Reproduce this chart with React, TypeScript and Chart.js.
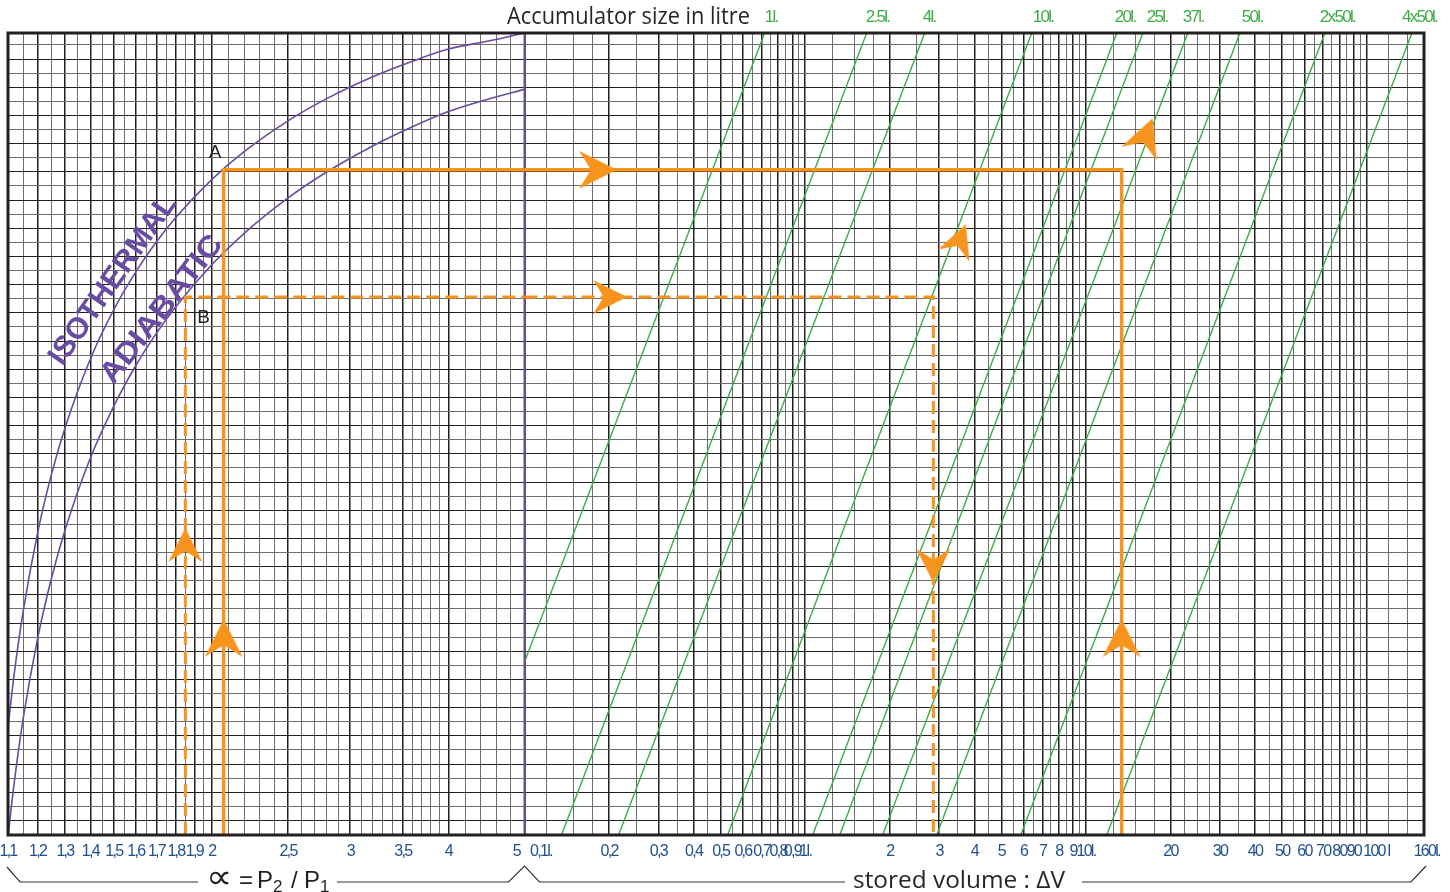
import React, { useEffect, useRef } from 'react';
import { Chart, registerables } from 'chart.js';

Chart.register(...registerables);

// ---------------- data ----------------
// vertical axis: ratio ΔV / V0 (log scale)
const RATIO_TOP = 0.69;
const RATIO_BOTTOM = 0.0569;

// α = P2 / P1 section (log scale)
const ALPHA_MIN = 1.1;
const ALPHA_MAX = 5;
const ALPHA_GRID = [1.1, 1.15, 1.2, 1.25, 1.3, 1.35, 1.4, 1.45, 1.5, 1.55, 1.6, 1.65, 1.7, 1.75, 1.8, 1.85, 1.9, 1.95, 2, 2.1, 2.2, 2.3, 2.4, 2.5, 2.6, 2.7, 2.8, 2.9, 3, 3.1, 3.2, 3.3, 3.4, 3.5, 3.6, 3.7, 3.8, 3.9, 4, 4.2, 4.4, 4.6, 4.8, 5];
const ALPHA_TICKS = [1.1, 1.2, 1.3, 1.4, 1.5, 1.6, 1.7, 1.8, 1.9, 2, 2.5, 3, 3.5, 4, 5];
const ALPHA_TICK_LABELS = ['1,1', '1,2', '1,3', '1,4', '1,5', '1,6', '1,7', '1,8', '1,9', '2', '2,5', '3', '3,5', '4', '5      '];

// stored volume ΔV section (log scale, litres)
const VOL_MIN = 0.1;
const VOL_MAX = 160;
const VOLUME_GRID = [0.1, 0.12, 0.15, 0.175, 0.2, 0.25, 0.3, 0.35, 0.4, 0.45, 0.5, 0.55, 0.6, 0.65, 0.7, 0.75, 0.8, 0.85, 0.9, 0.95, 1, 1.25, 1.5, 1.75, 2, 2.5, 3, 3.5, 4, 4.5, 5, 5.5, 6, 6.5, 7, 7.5, 8, 8.5, 9, 9.5, 10, 12.5, 15, 17.5, 20, 22.5, 25, 27.5, 30, 35, 40, 45, 50, 55, 60, 65, 70, 75, 80, 85, 90, 95, 100, 120, 140, 160];
const VOLUME_TICKS = [0.1, 0.2, 0.3, 0.4, 0.5, 0.6, 0.7, 0.8, 0.9, 1, 2, 3, 4, 5, 6, 7, 8, 9, 10, 20, 30, 40, 50, 60, 70, 80, 90, 100, 160];
const VOLUME_TICK_LABELS = ['            0,1l.', '0,2', '0,3', '0,4', '0,5', '0,6', '0,7', '0,8', '0,9', '1l.', '2', '3', '4', '5', '6', '7', '8', '9', '10l.', '20', '30', '40', '50', '60', '70', '80', '90', '       100 l', '  160l.'];

// accumulator size lines (green)
const SIZE_LABELS = ['1l.', '2.5l.', '4l.', '10l.', '20l.', '25l.', '37l.', '50l.', '2x50l.', '4x50l.'];
const SIZE_LABEL_VOLUME = [0.717, 1.642, 2.62, 6.46, 12.67, 16.47, 22.13, 35.91, 68.1, 133.5];
const SIZE_TOP_VOLUME = [0.717, 1.655, 2.665, 6.41, 12.88, 15.94, 23.06, 35.33, 70.96, 144.9];
const SIZE_BOTTOM_VOLUME = [0.1, 0.1355, 0.2163, 0.529, 1.063, 1.327, 1.887, 2.94, 5.86, 11.86];
const SIZE_BOTTOM_RATIO = [0.0975, 0.0569, 0.0569, 0.0569, 0.0569, 0.0569, 0.0569, 0.0569, 0.0569, 0.0569];

// isothermal / adiabatic curves
const CURVE_ALPHA = [1.1, 1.12, 1.15, 1.2, 1.25, 1.3, 1.4, 1.5, 1.6, 1.7, 1.8, 2, 2.2, 2.5, 2.8, 3.2, 3.6, 4, 4.5, 5];
const ISOTHERMAL_RATIO = [0.0795, 0.0938, 0.1141, 0.1458, 0.175, 0.2019, 0.25, 0.2917, 0.3281, 0.3603, 0.3889, 0.4375, 0.4773, 0.525, 0.5625, 0.6016, 0.6319, 0.6563, 0.673, 0.69];
const ADIABATIC_RATIO = [0.0566, 0.0668, 0.0817, 0.105, 0.1267, 0.1469, 0.1837, 0.2161, 0.2452, 0.2712, 0.2947, 0.3357, 0.3702, 0.413, 0.4477, 0.4852, 0.5154, 0.5404, 0.562, 0.579];

// worked examples: [A (solid), B (dashed)]
const EXAMPLE_ALPHA = [2.07, 1.85];
const EXAMPLE_RATIO = [0.4508, 0.3035];
const EXAMPLE_VOLUME = [13.4, 2.86];

// arrows
const ARROW_A_ALPHA = [2.07, 1.85];
const ARROW_A_RATIO = [0.105, 0.1403];
const ARROW_A_ROT = [-90, -90];
const ARROW_A_SIZE = [40, 36];
const ARROW_V_VOLUME = [0.1827, 0.2017, 16.34, 3.551, 2.86, 13.4];
const ARROW_V_RATIO = [0.4508, 0.3035, 0.5009, 0.3624, 0.1315, 0.105];
const ARROW_V_ROT = [0, 0, -69, -69, 90, -90];
const ARROW_V_SIZE = [40, 36, 40, 36, 36, 40];

// ---------------- style ----------------
const DARK = '#231f20';
const GREY = '#6e6e6e';
const GREEN = '#3dac45';
const ORANGE = '#f7941d';
const PURPLE = '#6a4ba3';
const BLUE = '#1f4f8c';
const SANS = '"Liberation Sans", Arial, sans-serif';
const SPLIT = 516.5 / 1416; // share of the plot width taken by the α section

const xaMax = ALPHA_MIN * Math.pow(ALPHA_MAX / ALPHA_MIN, 1 / SPLIT);
const xvMin = VOL_MIN / Math.pow(VOL_MAX / VOL_MIN, SPLIT / (1 - SPLIT));

const DECADES = Math.log10(RATIO_TOP / RATIO_BOTTOM);
const ROW_VALUES = Array.from({ length: 56 }, (_, k) => RATIO_TOP * Math.pow(10, (-DECADES * (12 + 14.1 * k)) / 802));

const near = (a: number, b: number) => Math.abs(a - b) < 1e-6 * Math.max(1, Math.abs(b));
const findIdx = (arr: number[], v: number) => arr.findIndex((t) => near(t, v));

function makeArrow(size: number): HTMLCanvasElement {
  const c = document.createElement('canvas');
  c.width = size;
  c.height = size;
  const g = c.getContext('2d')!;
  g.fillStyle = ORANGE;
  g.beginPath();
  g.moveTo(size - 1, size / 2);
  g.lineTo(1, 1);
  g.quadraticCurveTo(size * 0.22, size * 0.32, size * 0.32, size / 2);
  g.quadraticCurveTo(size * 0.22, size * 0.68, 1, size - 1);
  g.closePath();
  g.fill();
  return c;
}

function rotatedText(ctx: CanvasRenderingContext2D, text: string, cx: number, cy: number, deg: number, target: number) {
  ctx.save();
  ctx.translate(cx, cy);
  ctx.rotate((deg * Math.PI) / 180);
  ctx.font = 'bold 30px "Liberation Sans", Arial, sans-serif';
  const w = ctx.measureText(text).width;
  ctx.scale(target / w, 1);
  ctx.textAlign = 'center';
  ctx.textBaseline = 'middle';
  ctx.fillStyle = PURPLE;
  ctx.fillText(text, 0, 0);
  ctx.restore();
}

function fitText(ctx: CanvasRenderingContext2D, text: string, x: number, y: number, target: number) {
  const w = ctx.measureText(text).width;
  ctx.save();
  ctx.translate(x, y);
  ctx.scale(target / w, 1);
  ctx.fillText(text, 0, 0);
  ctx.restore();
}

// condensed look for the axis labels drawn by Chart.js
const tightLabels = {
  id: 'tightLabels',
  beforeDraw(chart: any) {
    (chart.ctx as any).letterSpacing = '-1.7px';
  },
};

const textPlugin = {
  id: 'nomoText',
  afterDatasetsDraw(chart: any) {
    const { ctx, chartArea: a, scales } = chart;
    (ctx as any).letterSpacing = '0px';
    const xa = scales.xa;
    const xv = scales.xv;
    const y = scales.y;
    ctx.save();
    // frame
    ctx.strokeStyle = DARK;
    ctx.lineWidth = 3;
    ctx.strokeRect(a.left, a.top, a.right - a.left, a.bottom - a.top);

    // A / B
    ctx.fillStyle = DARK;
    ctx.textAlign = 'left';
    ctx.textBaseline = 'alphabetic';
    ctx.font = '19px ' + SANS;
    const ax = xa.getPixelForValue(EXAMPLE_ALPHA[0]);
    const ay = y.getPixelForValue(EXAMPLE_RATIO[0]);
    ctx.fillText('A', ax - 15, ay - 12);
    const bx = xa.getPixelForValue(EXAMPLE_ALPHA[1]);
    const by = y.getPixelForValue(EXAMPLE_RATIO[1]);
    ctx.fillText('B', bx + 12, by + 26);

    // curve names
    rotatedText(ctx, 'ISOTHERMAL', xa.getPixelForValue(1.497), y.getPixelForValue(0.3197), -55, 200);
    rotatedText(ctx, 'ADIABATIC', xa.getPixelForValue(1.728), y.getPixelForValue(0.2916), -52, 180);

    // top title
    ctx.fillStyle = '#262626';
    ctx.font = '23px "Open Sans", "Noto Sans", sans-serif';
    fitText(ctx, 'Accumulator size in litre', 507, 24, 243);

    // bottom braces
    const sx = xv.getPixelForValue(VOL_MIN);
    const by0 = a.bottom + 47;
    ctx.strokeStyle = '#333333';
    ctx.lineWidth = 1.2;
    ctx.beginPath();
    ctx.moveTo(a.left - 1, by0 - 15);
    ctx.lineTo(a.left + 12, by0);
    ctx.lineTo(198, by0);
    ctx.moveTo(337, by0);
    ctx.lineTo(sx - 16, by0);
    ctx.lineTo(sx, by0 - 16);
    ctx.lineTo(sx + 15, by0);
    ctx.lineTo(845, by0);
    ctx.moveTo(1082, by0);
    ctx.lineTo(a.right - 13, by0);
    ctx.lineTo(a.right + 2, by0 - 16);
    ctx.stroke();

    // α = P2 / P1
    ctx.fillStyle = DARK;
    const base = a.bottom + 53;
    ctx.font = '34px "DejaVu Sans", sans-serif';
    fitText(ctx, '\u221D', 206, base, 26);
    ctx.font = '24px ' + SANS;
    ctx.fillText('=', 239, base);
    ctx.fillText('P', 257, base);
    ctx.fillText('/', 291, base);
    ctx.fillText('P', 304, base);
    ctx.font = '17px ' + SANS;
    ctx.fillText('2', 273, base + 4);
    ctx.fillText('1', 320, base + 4);

    // stored volume
    ctx.fillStyle = '#262626';
    ctx.font = '24px "Open Sans", "Noto Sans", sans-serif';
    fitText(ctx, 'stored volume : \u0394V', 853, base, 212);
    ctx.restore();
  },
};

export default function App() {
  const ref = useRef<HTMLCanvasElement>(null);
  useEffect(() => {
    const canvas = ref.current;
    if (!canvas) return;

    const greenSets = SIZE_LABELS.map((lab, i) => ({
      label: lab,
      type: 'line',
      xAxisID: 'xv',
      yAxisID: 'y',
      data: [
        { x: SIZE_BOTTOM_VOLUME[i], y: SIZE_BOTTOM_RATIO[i] },
        { x: SIZE_TOP_VOLUME[i], y: RATIO_TOP },
      ],
      borderColor: GREEN,
      borderWidth: 1.4,
      pointRadius: 0,
      order: 5,
    }));

    const datasets: any[] = [
      ...greenSets,
      {
        label: 'isothermal',
        xAxisID: 'xa',
        yAxisID: 'y',
        data: CURVE_ALPHA.map((a, i) => ({ x: a, y: ISOTHERMAL_RATIO[i] })),
        borderColor: PURPLE,
        borderWidth: 1.6,
        pointRadius: 0,
        cubicInterpolationMode: 'monotone',
        order: 4,
      },
      {
        label: 'adiabatic',
        xAxisID: 'xa',
        yAxisID: 'y',
        data: CURVE_ALPHA.map((a, i) => ({ x: a, y: ADIABATIC_RATIO[i] })),
        borderColor: PURPLE,
        borderWidth: 1.6,
        pointRadius: 0,
        cubicInterpolationMode: 'monotone',
        order: 4,
      },
      {
        label: 'alpha max',
        xAxisID: 'xa',
        yAxisID: 'y',
        data: [
          { x: ALPHA_MAX, y: RATIO_BOTTOM },
          { x: ALPHA_MAX, y: RATIO_TOP },
        ],
        borderColor: PURPLE,
        borderWidth: 2,
        pointRadius: 0,
        order: 4,
      },
    ];

    EXAMPLE_ALPHA.forEach((al, i) => {
      const dash = i === 1 ? [13, 6] : [];
      const w = i === 1 ? 3 : 3.5;
      datasets.push({
        label: 'example left ' + i,
        xAxisID: 'xa',
        yAxisID: 'y',
        data: [
          { x: al, y: RATIO_BOTTOM },
          { x: al, y: EXAMPLE_RATIO[i] },
          { x: ALPHA_MAX, y: EXAMPLE_RATIO[i] },
        ],
        borderColor: ORANGE,
        borderWidth: w,
        borderDash: dash,
        borderJoinStyle: 'miter',
        pointRadius: 0,
        order: 2,
      });
      datasets.push({
        label: 'example right ' + i,
        xAxisID: 'xv',
        yAxisID: 'y',
        data: [
          { x: VOL_MIN, y: EXAMPLE_RATIO[i] },
          { x: EXAMPLE_VOLUME[i], y: EXAMPLE_RATIO[i] },
          { x: EXAMPLE_VOLUME[i], y: RATIO_BOTTOM },
        ],
        borderColor: ORANGE,
        borderWidth: w,
        borderDash: dash,
        borderJoinStyle: 'miter',
        pointRadius: 0,
        order: 2,
      });
    });

    datasets.push({
      label: 'arrows alpha',
      xAxisID: 'xa',
      yAxisID: 'y',
      showLine: false,
      data: ARROW_A_ALPHA.map((a, i) => ({ x: a, y: ARROW_A_RATIO[i] })),
      pointStyle: ARROW_A_SIZE.map((s) => makeArrow(s)),
      pointRotation: ARROW_A_ROT,
      pointRadius: 5,
      order: 1,
    });
    datasets.push({
      label: 'arrows volume',
      xAxisID: 'xv',
      yAxisID: 'y',
      showLine: false,
      data: ARROW_V_VOLUME.map((v, i) => ({ x: v, y: ARROW_V_RATIO[i] })),
      pointStyle: ARROW_V_SIZE.map((s) => makeArrow(s)),
      pointRotation: ARROW_V_ROT,
      pointRadius: 5,
      order: 1,
    });

    const tickFont = { family: SANS, size: 16 };
    const zeroFit = (s: any) => {
      s.height = 0;
      s.paddingLeft = 0;
      s.paddingRight = 0;
    };

    const chart = new Chart(canvas, {
      type: 'line',
      data: { datasets },
      options: {
        responsive: false,
        animation: false,
        events: [],
        devicePixelRatio: 1,
        layout: { padding: { left: 8, top: 33, right: 26, bottom: 57 } },
        plugins: { legend: { display: false }, tooltip: { enabled: false }, title: { display: false } },
        scales: {
          xa: {
            type: 'logarithmic',
            position: 'bottom',
            min: ALPHA_MIN,
            max: xaMax,
            afterBuildTicks: (s: any) => {
              s.ticks = ALPHA_GRID.map((v) => ({ value: v }));
            },
            afterFit: zeroFit,
            border: { display: false },
            grid: {
              drawTicks: false,
              color: (c: any) => (c.tick && findIdx(ALPHA_TICKS, c.tick.value) >= 0 ? DARK : GREY),
              lineWidth: (c: any) => (c.tick && findIdx(ALPHA_TICKS, c.tick.value) >= 0 ? 1.5 : 1),
            },
            ticks: {
              autoSkip: false,
              maxRotation: 0,
              minRotation: 0,
              mirror: true,
              padding: -26,
              color: BLUE,
              font: tickFont,
              callback: (v: any) => {
                const i = findIdx(ALPHA_TICKS, Number(v));
                return i >= 0 ? ALPHA_TICK_LABELS[i] : '';
              },
            },
          },
          xv: {
            type: 'logarithmic',
            position: 'bottom',
            min: xvMin,
            max: VOL_MAX,
            afterBuildTicks: (s: any) => {
              s.ticks = VOLUME_GRID.map((v) => ({ value: v }));
            },
            afterFit: zeroFit,
            border: { display: false },
            grid: {
              drawTicks: false,
              color: (c: any) => (c.tick && findIdx(VOLUME_TICKS, c.tick.value) >= 0 ? DARK : GREY),
              lineWidth: (c: any) => (c.tick && findIdx(VOLUME_TICKS, c.tick.value) >= 0 ? 1.5 : 1),
            },
            ticks: {
              autoSkip: false,
              maxRotation: 0,
              minRotation: 0,
              mirror: true,
              padding: -26,
              color: BLUE,
              font: tickFont,
              callback: (v: any) => {
                const i = findIdx(VOLUME_TICKS, Number(v));
                return i >= 0 ? VOLUME_TICK_LABELS[i] : '';
              },
            },
          },
          xt: {
            type: 'logarithmic',
            position: 'top',
            min: xvMin,
            max: VOL_MAX,
            afterBuildTicks: (s: any) => {
              s.ticks = SIZE_LABEL_VOLUME.map((v) => ({ value: v }));
            },
            afterFit: zeroFit,
            border: { display: false },
            grid: { display: false, drawTicks: false },
            ticks: {
              autoSkip: false,
              maxRotation: 0,
              minRotation: 0,
              mirror: true,
              padding: -26,
              align: 'start',
              color: GREEN,
              font: { family: SANS, size: 17 },
              callback: (v: any) => {
                const i = findIdx(SIZE_LABEL_VOLUME, Number(v));
                return i >= 0 ? SIZE_LABELS[i] : '';
              },
            },
          },
          y: {
            type: 'logarithmic',
            position: 'left',
            min: RATIO_BOTTOM,
            max: RATIO_TOP,
            afterBuildTicks: (s: any) => {
              s.ticks = ROW_VALUES.map((v) => ({ value: v }));
            },
            afterFit: (s: any) => {
              s.width = 0;
              s.paddingTop = 0;
              s.paddingBottom = 0;
            },
            border: { display: false },
            grid: {
              drawTicks: false,
              color: (c: any) => (c.index % 2 === 1 ? DARK : GREY),
              lineWidth: 1,
            },
            ticks: { display: false },
          },
        },
      } as any,
      plugins: [tightLabels, textPlugin],
    } as any);
    return () => chart.destroy();
  }, []);

  return (
    <div style={{ position: 'absolute', left: 0, top: 0, width: 1450, height: 892, background: '#ffffff' }}>
      <canvas ref={ref} width={1450} height={892} style={{ display: 'block' }} />
    </div>
  );
}
